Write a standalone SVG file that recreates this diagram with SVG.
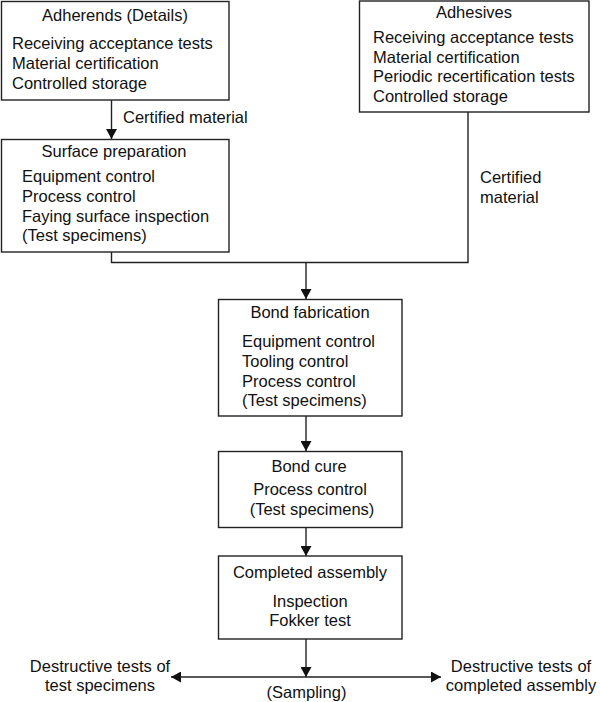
<svg xmlns="http://www.w3.org/2000/svg" width="600" height="702" viewBox="0 0 600 702">
<style>
  rect.box { fill: #fff; stroke: #222; stroke-width: 1.4; }
  text { font-family: "Liberation Sans", Arial, sans-serif; font-size: 16.5px; fill: #111; }
  .c { text-anchor: middle; }
  .ln { fill: none; stroke: #222; stroke-width: 1.4; }
</style>
<defs>
  <marker id="ah" markerUnits="userSpaceOnUse" markerWidth="10" markerHeight="11" refX="10" refY="5.5" orient="auto-start-reverse">
    <path d="M0,0 L10,5.5 L0,11 z" fill="#111"/>
  </marker>
</defs>
<rect width="600" height="702" fill="#fff"/>

<g id="connectors">
  <line class="ln" x1="111.5" y1="100" x2="111.5" y2="139" marker-end="url(#ah)"/>
  <polyline class="ln" points="111.5,252 111.5,262.5 468,262.5 468,112"/>
  <line class="ln" x1="306" y1="262.5" x2="306" y2="299" marker-end="url(#ah)"/>
  <line class="ln" x1="306" y1="416" x2="306" y2="451" marker-end="url(#ah)"/>
  <line class="ln" x1="306" y1="527.5" x2="306" y2="556" marker-end="url(#ah)"/>
  <line class="ln" x1="306" y1="639" x2="306" y2="677" marker-end="url(#ah)"/>
  <line class="ln" x1="171" y1="677" x2="441" y2="677" marker-start="url(#ah)" marker-end="url(#ah)"/>
  <text x="123" y="123">Certified material</text>
  <text x="480" y="182.5">Certified</text>
  <text x="480" y="202.5">material</text>
  <text class="c" x="100" y="672">Destructive tests of</text>
  <text class="c" x="100" y="691">test specimens</text>
  <text class="c" x="521" y="672">Destructive tests of</text>
  <text class="c" x="521" y="691">completed assembly</text>
  <text class="c" x="306.5" y="698">(Sampling)</text>
</g>

<g id="adherends">
  <rect class="box" x="1.5" y="1.5" width="227.5" height="98.5"/>
  <text class="c" x="115" y="21">Adherends (Details)</text>
  <text x="12" y="48.5">Receiving acceptance tests</text>
  <text x="12" y="68.5">Material certification</text>
  <text x="12" y="88.5">Controlled storage</text>
</g>

<g id="adhesives">
  <rect class="box" x="359.5" y="1" width="229.5" height="111"/>
  <text class="c" x="474" y="17.5">Adhesives</text>
  <text x="373" y="42.5">Receiving acceptance tests</text>
  <text x="373" y="62.5">Material certification</text>
  <text x="373" y="82">Periodic recertification tests</text>
  <text x="373" y="101.5">Controlled storage</text>
</g>

<g id="surface-preparation">
  <rect class="box" x="1.5" y="139.5" width="227.5" height="112.5"/>
  <text class="c" x="114" y="157">Surface preparation</text>
  <text x="22" y="182">Equipment control</text>
  <text x="22" y="202">Process control</text>
  <text x="22" y="222">Faying surface inspection</text>
  <text x="22" y="241">(Test specimens)</text>
</g>

<g id="bond-fabrication">
  <rect class="box" x="218.5" y="299.5" width="183.5" height="116.5"/>
  <text class="c" x="310" y="317.5">Bond fabrication</text>
  <text x="242" y="346.5">Equipment control</text>
  <text x="242" y="366.5">Tooling control</text>
  <text x="242" y="386.5">Process control</text>
  <text x="242" y="406">(Test specimens)</text>
</g>

<g id="bond-cure">
  <rect class="box" x="218.5" y="451.5" width="183.5" height="76"/>
  <text class="c" x="309" y="472">Bond cure</text>
  <text class="c" x="310" y="495">Process control</text>
  <text class="c" x="312" y="515">(Test specimens)</text>
</g>

<g id="completed-assembly">
  <rect class="box" x="218.5" y="556" width="183.5" height="83"/>
  <text class="c" x="310" y="578">Completed assembly</text>
  <text class="c" x="310" y="607">Inspection</text>
  <text class="c" x="310" y="626">Fokker test</text>
</g>
</svg>
